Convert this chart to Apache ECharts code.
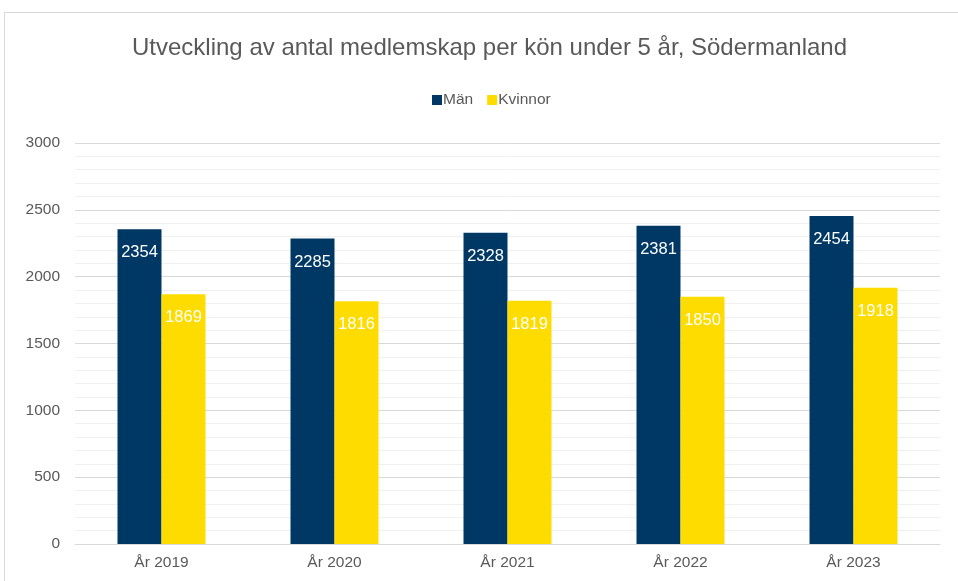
<!DOCTYPE html>
<html>
<head>
<meta charset="utf-8">
<script src="https://cdn.jsdelivr.net/npm/echarts@6/dist/echarts.min.js"></script>
<style>
html,body{margin:0;padding:0;background:#fff;}
#frame{position:absolute;left:4px;top:12px;width:970px;height:600px;border:1px solid #d9d9d9;}
#chart{position:absolute;left:0;top:0;width:958px;height:581px;}
</style>
</head>
<body>
<div id="frame"></div>
<div id="chart"></div>
<script>
var categories = ['År 2019', 'År 2020', 'År 2021', 'År 2022', 'År 2023'];
var man = [2354, 2285, 2328, 2381, 2454];
var kvinnor = [1869, 1816, 1819, 1850, 1918];

var chart = echarts.init(document.getElementById('chart'));
window.onresize = function(){
	chart.resize();
}
var labelStyle = {
    show: true,
    position: 'insideTop',
    distance: 15,
    color: '#fff',
    fontSize: 16.5,
    fontFamily: 'Liberation Sans, Arial'
};
var option = {
    animation: false,
    textStyle: {fontFamily: 'Liberation Sans, Arial'},
    title: {
        text: 'Utveckling av antal medlemskap per kön under 5 år, Södermanland',
        left: 127,
        top: 31,
        textStyle: {color: '#595959', fontSize: 24, fontWeight: 'normal'}
    },
    legend: {
        top: 87,
        left: 427,
        itemWidth: 10,
        itemHeight: 10,
        itemGap: 14,
        icon: 'rect',
        textStyle: {color: '#595959', fontSize: 15.5, padding: [0, 0, 0, -4]},
        data: ['Män', 'Kvinnor']
    },
    grid: {
        left: 75,
        right: 18,
        top: 143,
        bottom: 37,
        containLabel: false
    },
    xAxis: {
        type: 'category',
        data: categories,
        axisTick: {show: false},
        axisLine: {lineStyle: {color: '#d9d9d9'}},
        axisLabel: {color: '#595959', fontSize: 15.5, margin: 11}
    },
    yAxis: {
        type: 'value',
        min: 0,
        max: 3000,
        interval: 500,
        axisLabel: {color: '#595959', fontSize: 15.5, margin: 15, formatter: function(v){ return String(v); }},
        splitLine: {lineStyle: {color: '#d9d9d9', width: 1}},
        minorTick: {show: false, splitNumber: 5},
        minorSplitLine: {show: true, lineStyle: {color: '#f0f0f0', width: 1}}
    },
    series: [{
        name: 'Män',
        type: 'bar',
        data: man,
        barWidth: 44,
        barGap: '0%',
        itemStyle: {color: '#003865'},
        label: labelStyle
    }, {
        name: 'Kvinnor',
        type: 'bar',
        data: kvinnor,
        barWidth: 44,
        barGap: '0%',
        itemStyle: {color: '#ffdc00'},
        label: labelStyle
    }]
};
chart.setOption(option);
</script>
</body>
</html>
